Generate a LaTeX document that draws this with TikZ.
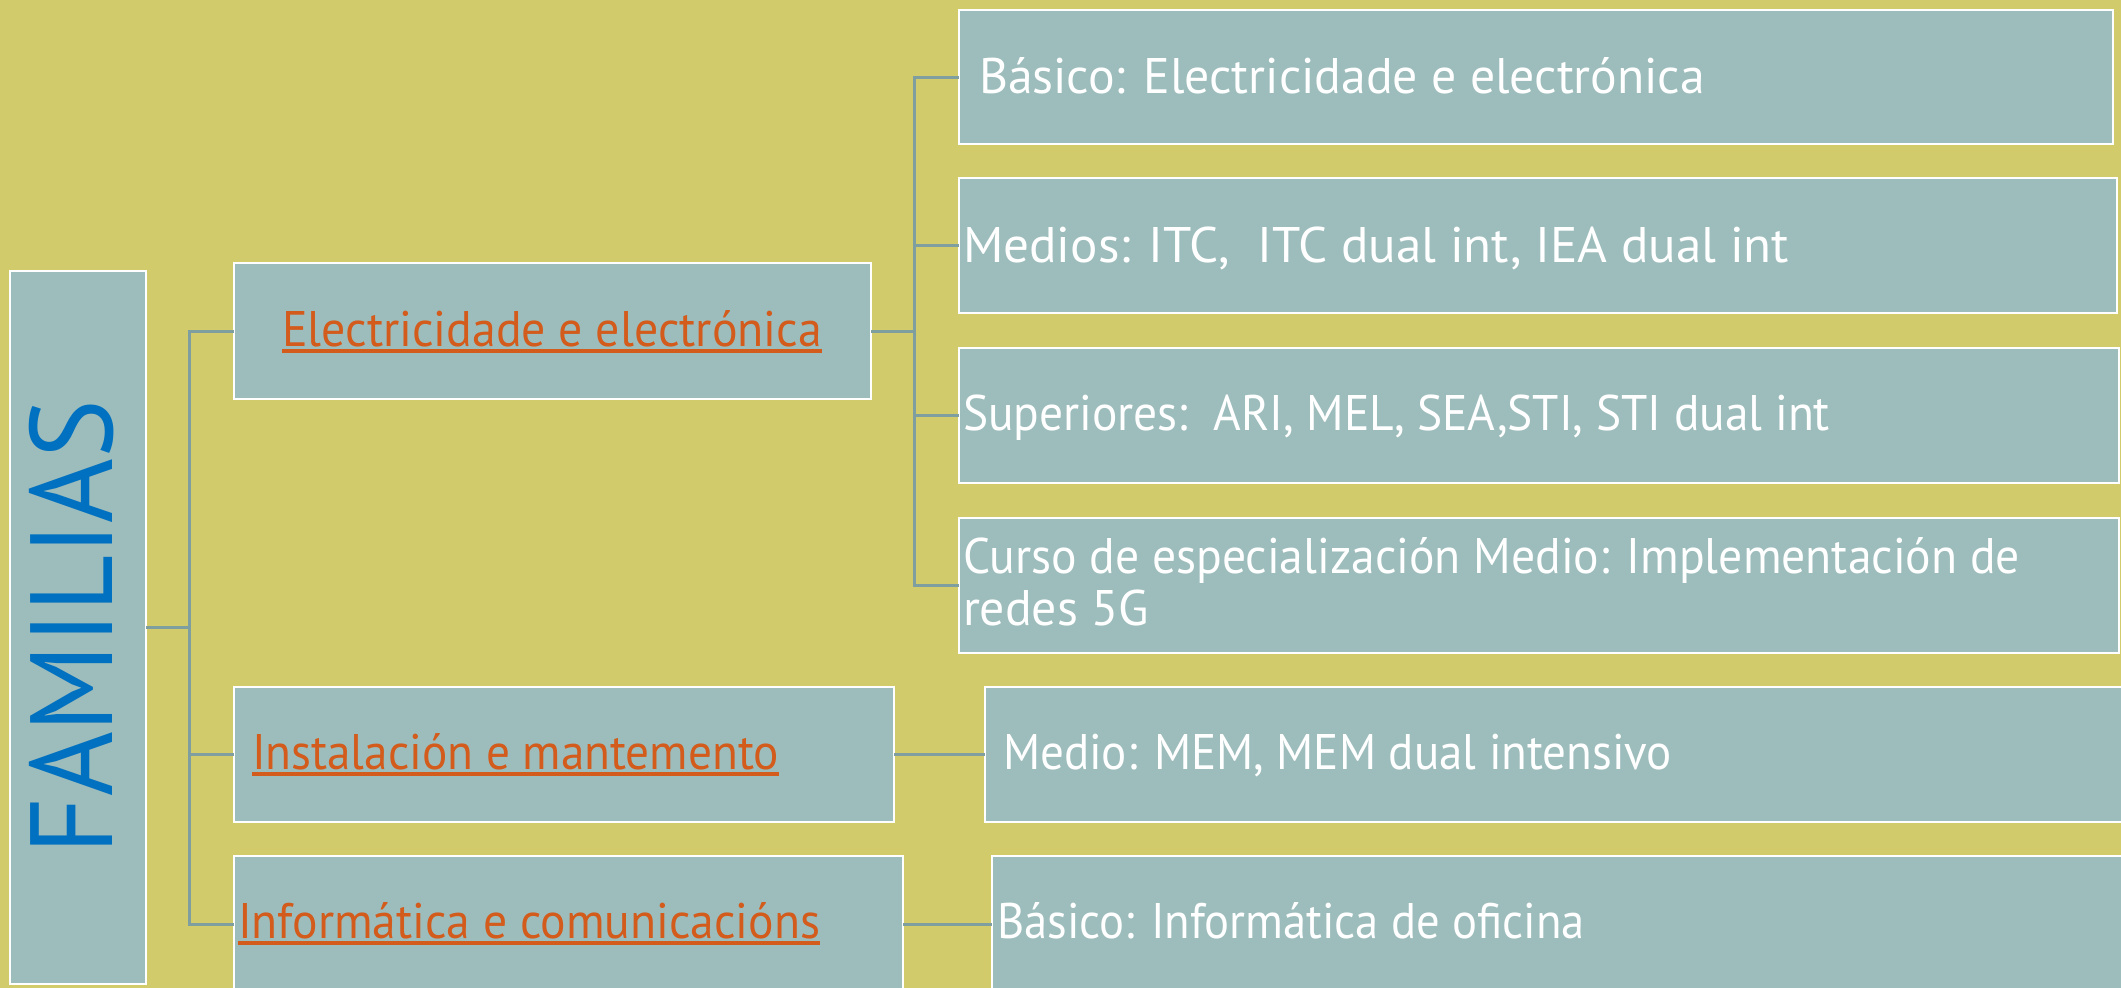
\documentclass[tikz,border=0pt]{standalone}
\usepackage{fontspec}
\setmainfont{PT Sans}
\usepackage{graphicx}
\definecolor{bgc}{HTML}{D2CB6C}
\definecolor{boxc}{HTML}{9DBDBC}
\definecolor{linec}{HTML}{7F9EA0}
\definecolor{orangec}{HTML}{D35B1B}
\definecolor{bluec}{HTML}{0070C0}
\newcommand{\fw}[2]{\resizebox{#1}{\height}{#2}}
\begin{document}
\begin{tikzpicture}[x=1pt,y=-1pt,
  box/.style={draw=white, line width=2.5pt, fill=boxc, inner sep=0pt, outer sep=0pt, rectangle},
  conn/.style={draw=linec, line width=3pt},
  txt/.style={inner sep=0pt, outer sep=0pt, anchor=base west, font=\fontsize{50}{60}\selectfont},
  wtxt/.style={txt, text=white},
  otxt/.style={txt, text=orangec},
  uline/.style={draw=orangec, line width=3.5pt}]
\useasboundingbox (0,0) rectangle (2121,988);
\fill[bgc] (0,0) rectangle (2121,988);
% boxes
\node[box, minimum width=136pt, minimum height=713pt] (fam) at (78,627.5) {};
\node[box, minimum width=637pt, minimum height=136pt] (elec) at (552.5,331) {};
\node[box, minimum width=660pt, minimum height=135pt] (inst) at (564,754.5) {};
\node[box, minimum width=669pt, minimum height=136pt] (info) at (568.5,924) {};
\node[box, minimum width=1154pt, minimum height=134pt] (bas1) at (1536,77) {};
\node[box, minimum width=1158pt, minimum height=135pt] (med) at (1538,245.5) {};
\node[box, minimum width=1160pt, minimum height=135pt] (sup) at (1539,415.5) {};
\node[box, minimum width=1160pt, minimum height=135pt] (cur) at (1539,585.5) {};
\node[box, minimum width=1145pt, minimum height=135pt] (mem) at (1557.5,754.5) {};
\node[box, minimum width=1138pt, minimum height=136pt] (bas2) at (1561,924) {};
% junctions
\coordinate (j1) at (189,627.5);
\coordinate (j2) at (914,331);
% connectors
\draw[conn] (fam.east) -- (j1);
\draw[conn] (j1) |- (elec.west);
\draw[conn] (j1) |- (inst.west);
\draw[conn] (j1) |- (info.west);
\draw[conn] (elec.east) -- (j2);
\draw[conn] (j2) |- (bas1.west);
\draw[conn] (j2) |- (med.west);
\draw[conn] (j2) |- (sup.west);
\draw[conn] (j2) |- (cur.west);
\draw[conn] (inst.east) -- (mem.west);
\draw[conn] (info.east) -- (bas2.west);
% texts
\node[inner sep=0pt, rotate=90, text=bluec, font=\fontsize{117}{120}\selectfont] (famt) at (72,627) {\fw{454pt}{FAMILIAS}};
\node[otxt] (elect) at (282,346) {\fw{540pt}{Electricidade e electrónica}};
\node[otxt] (instt) at (252,769) {\fw{527pt}{Instalación e mantemento}};
\node[otxt] (infot) at (238,938) {\fw{582pt}{Informática e comunicacións}};
\draw[uline] ([yshift=-5pt]elect.base west) -- ([yshift=-5pt]elect.base east);
\draw[uline] ([yshift=-5pt]instt.base west) -- ([yshift=-5pt]instt.base east);
\draw[uline] ([yshift=-5pt]infot.base west) -- ([yshift=-5pt]infot.base east);
\node[wtxt] (bas1t) at (979,93) {\fw{726pt}{Básico: Electricidade e electrónica}};
\node[wtxt] (medt) at (963,262) {\fw{826pt}{Medios: ITC,\ \ ITC dual int, IEA dual int}};
\node[wtxt] (supt) at (963,430) {\fw{867pt}{Superiores:\ \ ARI, MEL, SEA,STI, STI dual int}};
\node[wtxt] (curt1) at (963,573) {\fw{1057pt}{Curso de especialización Medio: Implementación de}};
\node[wtxt] (curt2) at (963,625) {\fw{186pt}{redes 5G}};
\node[wtxt] (memt) at (1003,769) {\fw{669pt}{Medio: MEM, MEM dual intensivo}};
\node[wtxt] (bas2t) at (997,938) {\fw{588pt}{Básico: Informática de oficina}};
\end{tikzpicture}
\end{document}
